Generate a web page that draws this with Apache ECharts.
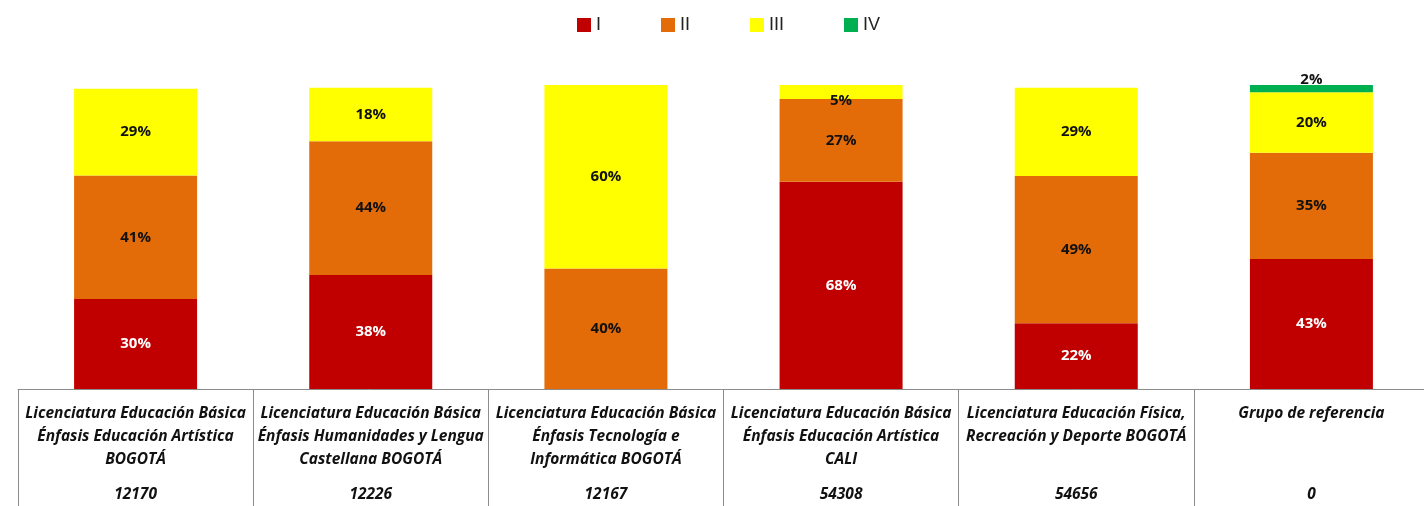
<!DOCTYPE html>
<html>
<head>
<meta charset="utf-8">
<script src="https://cdn.jsdelivr.net/npm/echarts@6/dist/echarts.min.js"></script>
<style>
  html, body { margin: 0; padding: 0; background: #fff; }
  #chart { width: 1424px; height: 506px; }
</style>
</head>
<body>
<div id="chart"></div>
<script>
// categorías (programas) y códigos
const programas = [
  ['Licenciatura Educación Básica', 'Énfasis Educación Artística', 'BOGOTÁ'],
  ['Licenciatura Educación Básica', 'Énfasis Humanidades y Lengua', 'Castellana BOGOTÁ'],
  ['Licenciatura Educación Básica', 'Énfasis Tecnología e', 'Informática BOGOTÁ'],
  ['Licenciatura Educación Básica', 'Énfasis Educación Artística', 'CALI'],
  ['Licenciatura Educación Física,', 'Recreación y Deporte BOGOTÁ', ''],
  ['Grupo de referencia', '', '']
];
const codigos = ['12170', '12226', '12167', '54308', '54656', '0'];

// porcentajes por nivel
const nivelI = [29.6, 37.5, 0, 68.2, 21.6, 42.8];
const nivelII = [40.6, 44.0, 39.6, 27.2, 48.5, 34.9];
const nivelIII = [28.6, 17.6, 60.4, 4.6, 29.0, 19.9];
const nivelIV = [0, 0, 0, 0, 0, 2.4];

const chart = echarts.init(document.getElementById('chart'));

function pct(p) {
  return p.value > 0 ? Math.round(p.value) + '%' : '';
}

function serie(name, data, color, labelColor) {
  return {
    name: name,
    type: 'bar',
    stack: 'total',
    barWidth: 123,
    data: data,
    itemStyle: { color: color },
    label: {
      show: true,
      position: 'inside',
      formatter: pct,
      color: labelColor,
      fontWeight: 'bold',
      fontSize: 15,
      fontFamily: 'Open Sans'
    }
  };
}

// etiquetas pequeñas desplazadas como en el original
const iiiData = nivelIII.map((v, i) => i === 3 ? { value: v, label: { offset: [0, 9] } } : v);
const ivData = nivelIV.map((v, i) => i === 5 ? { value: v, label: { offset: [0, -9] } } : v);

const option = {
  animation: false,
  legend: {
    left: 572,
    top: 11,
    itemWidth: 14,
    itemHeight: 14,
    itemGap: 60,
    icon: 'rect',
    textStyle: { fontSize: 18, color: '#222', fontFamily: 'Liberation Sans' },
    data: ['I', 'II', 'III', 'IV']
  },
  grid: { left: 18, width: 1411, top: 85, bottom: 117, outerBoundsMode: 'none' },
  xAxis: {
    type: 'category',
    data: programas.map((p, i) => i),
    axisLine: { lineStyle: { color: '#8c8c8c', width: 1 } },
    axisTick: { show: true, length: 118, lineStyle: { color: '#8c8c8c' } },
    axisLabel: {
      interval: 0,
      margin: 13,
      formatter: function (v, i) {
        const p = programas[i];
        return p.map(l => '{n|' + (l || ' ') + '}').join('\n') + '\n{c|' + codigos[i] + '}';
      },
      rich: {
        n: { fontSize: 15.5, fontWeight: 'bold', fontStyle: 'italic', color: '#111', lineHeight: 23, fontFamily: 'Open Sans' },
        c: { fontSize: 15.5, fontWeight: 'bold', fontStyle: 'italic', color: '#111', lineHeight: 47, fontFamily: 'Open Sans' }
      }
    }
  },
  yAxis: { type: 'value', min: 0, max: 100, show: false },
  series: [
    serie('I', nivelI, '#C00000', '#fff'),
    serie('II', nivelII, '#E36C09', '#111'),
    serie('III', iiiData, '#FFFF00', '#111'),
    serie('IV', ivData, '#00B050', '#111')
  ]
};

chart.setOption(option);
</script>
</body>
</html>
